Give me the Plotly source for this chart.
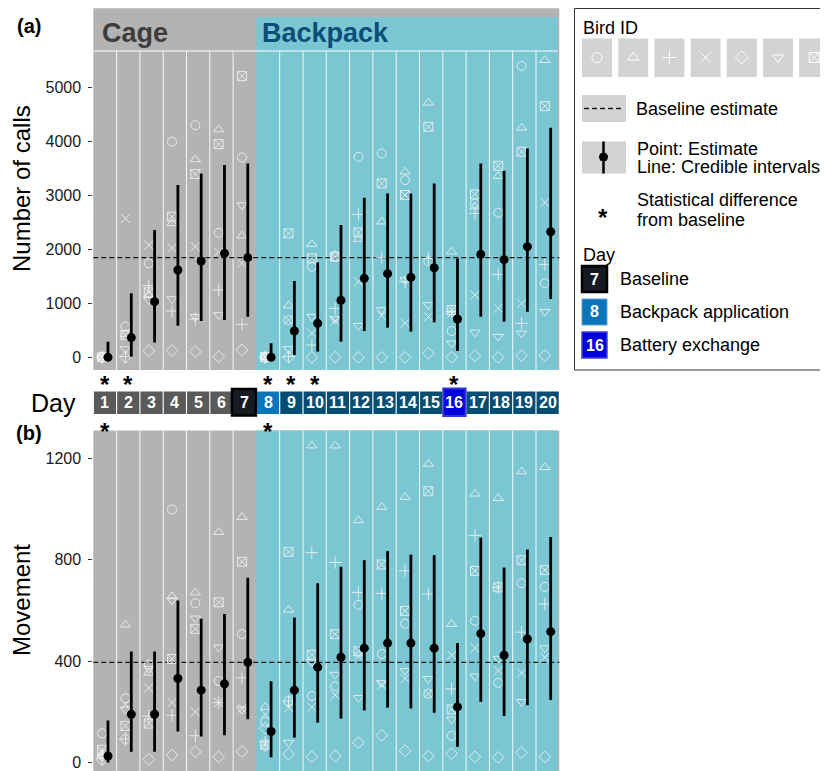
import plotly.graph_objects as go

# The page body has an 8px margin, so the figure is 820x763 and reference pixel
# coordinates are shifted by that margin.
OFF = 8
W, H = 828 - OFF, 771 - OFF
FONT = "Liberation Sans, Arial, Helvetica, sans-serif"

# ---------------- data ----------------
days = list(range(1, 21))
bird_symbols = ["circle-open", "triangle-up-open", "cross-thin-open", "x-thin-open",
                "diamond-open", "triangle-down-open", "square-x-open"]

# (a) Number of calls, per bird
calls_circle  = [0, 570, 1743, 4000, 4307, 2311, 3708, 0, 690, 1681, 1866, 3720, 3782, 3288, 1780, 488, 2855, 2682, 5408, 1372]
calls_tri_up  = [0, 430, 1156, 2484, 3671, 4227, 2256, 0, 958, 2101, 1900, 2194, 2515, 3442, 4722, 1959, 2793, 3362, 4258, 5513]
calls_plus    = [0, 12, 1329, 859, 711, 1248, 612, 0, 12, 229, 907, 2651, 1854, 1400, 1835, 847, 2670, 1539, 630, 1724]
calls_x       = [0, 2577, 2083, 2033, 2052, 1947, 1743, 0, 690, 445, 674, 1403, 772, 630, 754, 816, 1156, 908, 1001, 2874]
calls_diamond = [0, 0, 124, 124, 105, 12, 136, 0, 0, 0, 0, 0, 0, 0, 74, 0, 31, 0, 31, 31]
calls_tri_dn  = [0, 155, 1063, 1081, 754, 785, 2824, 0, 155, 754, 711, 587, 878, 1434, 970, 260, 463, 383, 445, 847]
calls_sqx     = [0, 414, 1205, 2608, 3399, 3955, 5216, 0, 2299, 1835, 1866, 2317, 3226, 3010, 4277, 878, 3022, 3553, 3813, 4660]
calls_est     = [0, 365, 1032, 1619, 1786, 1928, 1848, 0, 488, 630, 1057, 1465, 1551, 1483, 1662, 711, 1910, 1811, 2052, 2330]
calls_lo      = [0, 12, 272, 587, 674, 692, 754, 0, 43, 105, 290, 488, 550, 476, 649, 117, 754, 661, 847, 1081]
calls_hi      = [290, 1187, 2361, 3195, 3411, 3566, 3597, 260, 1415, 1761, 2453, 2960, 3041, 3041, 3226, 1835, 3597, 3461, 3875, 4258]
calls_sig_days = [1, 2, 8, 9, 10, 16]

# (b) Movement, per bird
move_circle  = [115, 253, 386, 998, 628, 321, 506, 160, 242, 262, 301, 622, 428, 547, 271, 105, 559, 314, 707, 693]
move_tri_up  = [30, 543, 353, 655, 670, 909, 968, 218, 602, 1250, 1250, 955, 1008, 1047, 1178, 546, 1060, 1043, 1148, 1165]
move_plus    = [15, 92, 183, 186, 105, 236, 334, 80, 242, 828, 789, 671, 667, 756, 665, 290, 896, 691, 514, 625]
move_x       = [40, 229, 294, 236, 200, 236, 213, 190, 216, 218, 266, 419, 305, 331, 271, 423, 451, 362, 353, 415]
move_diamond = [10, 92, 12, 29, 42, 22, 43, 135, 33, 22, 26, 78, 107, 46, 26, 35, 22, 20, 39, 22]
move_tri_dn  = [20, 209, 370, 640, 569, 454, 209, 60, 78, 396, 347, 255, 314, 362, 330, 170, 340, 410, 239, 451]
move_sqx     = [50, 144, 153, 408, 527, 632, 792, 70, 831, 425, 506, 438, 781, 598, 1070, 209, 756, 691, 798, 759]
move_est     = [25, 190, 190, 331, 285, 310, 395, 122, 285, 376, 415, 451, 471, 471, 451, 219, 508, 423, 487, 516]
move_lo      = [0, 42, 42, 122, 102, 107, 170, 20, 98, 157, 173, 205, 216, 213, 196, 61, 239, 183, 226, 246]
move_hi      = [165, 438, 438, 639, 567, 586, 729, 320, 572, 707, 772, 798, 834, 820, 818, 471, 887, 769, 840, 890]
move_sig_days = [1, 8]

baseline_day = 7
backpack_day = 8
battery_day = 16
calls_ticks = [0, 1000, 2000, 3000, 4000, 5000]
move_ticks = [0, 400, 800, 1200]

calls_birds = [calls_circle, calls_tri_up, calls_plus, calls_x, calls_diamond, calls_tri_dn, calls_sqx]
move_birds = [move_circle, move_tri_up, move_plus, move_x, move_diamond, move_tri_dn, move_sqx]

# ---------------- styles ----------------
GRAY = "#b3b3b3"
CYAN = "#7ac6d3"
MARK = "rgba(242,242,242,0.85)"
DARKBLUE = "#064d74"


def fx(x):
    return (x - OFF) / W


def fy(y):
    return 1 - (y - OFF) / H


PL, PR = 93.3, 559.3
A_TOP, A_STRIP, A_BOT = 8.3, 51, 370
B_TOP, B_BOT = 430.5, 771
DX_MARK, DX_EST = -0.12, 0.13

fig = go.Figure()

panels = [("x", "y", calls_birds, calls_est, calls_lo, calls_hi),
          ("x2", "y2", move_birds, move_est, move_lo, move_hi)]
for xa, ya, birds, est, lo, hi in panels:
    for sym, vals in zip(bird_symbols, birds):
        fig.add_trace(go.Scatter(
            x=[d + DX_MARK for d in days], y=vals, mode="markers", xaxis=xa, yaxis=ya,
            marker=dict(symbol=sym, size=9, color=MARK, line=dict(width=1, color=MARK)),
            showlegend=False, hoverinfo="skip"))
    fig.add_trace(go.Scatter(
        x=[d + DX_EST for d in days], y=est, mode="markers", xaxis=xa, yaxis=ya,
        marker=dict(size=9, color="black"),
        error_y=dict(type="data", symmetric=False,
                     array=[h - e for h, e in zip(hi, est)],
                     arrayminus=[e - l for e, l in zip(est, lo)],
                     width=0, thickness=2.8, color="black"),
        showlegend=False))

shapes = []
ann = []

# panel backgrounds
shapes.append(dict(type="rect", xref="paper", yref="paper", x0=fx(PL), x1=fx(PR),
                   y0=fy(A_BOT), y1=fy(A_TOP), fillcolor=GRAY, line=dict(width=0), layer="below"))
shapes.append(dict(type="rect", xref="paper", yref="paper", x0=fx(256.4), x1=fx(557.8),
                   y0=fy(A_BOT), y1=fy(17), fillcolor=CYAN, line=dict(width=0), layer="below"))
shapes.append(dict(type="rect", xref="paper", yref="paper", x0=fx(PL), x1=fx(PR),
                   y0=fy(B_BOT), y1=fy(B_TOP), fillcolor=GRAY, line=dict(width=0), layer="below"))
shapes.append(dict(type="rect", xref="paper", yref="paper", x0=fx(256.4), x1=fx(557.8),
                   y0=fy(B_BOT), y1=fy(B_TOP), fillcolor=CYAN, line=dict(width=0), layer="below"))
shapes.append(dict(type="line", xref="paper", yref="paper", x0=fx(PL), x1=fx(557.8),
                   y0=fy(A_STRIP), y1=fy(A_STRIP), line=dict(color="white", width=1), layer="below"))

for d in days[:-1]:
    if d == baseline_day:
        continue
    shapes.append(dict(type="line", xref="x", yref="paper", x0=d + 0.5, x1=d + 0.5,
                       y0=fy(A_BOT), y1=fy(A_STRIP), line=dict(color="rgba(255,255,255,0.9)", width=1), layer="below"))
    shapes.append(dict(type="line", xref="x2", yref="paper", x0=d + 0.5, x1=d + 0.5,
                       y0=fy(B_BOT), y1=fy(B_TOP), line=dict(color="rgba(255,255,255,0.9)", width=1), layer="below"))

# baselines
shapes.append(dict(type="line", xref="paper", yref="y", x0=fx(PL), x1=fx(PR),
                   y0=calls_est[baseline_day - 1], y1=calls_est[baseline_day - 1],
                   line=dict(color="#1a1a1a", width=1.3, dash="5px,3px"), layer="below"))
shapes.append(dict(type="line", xref="paper", yref="y2", x0=fx(PL), x1=fx(PR),
                   y0=move_est[baseline_day - 1], y1=move_est[baseline_day - 1],
                   line=dict(color="#1a1a1a", width=1.3, dash="5px,3px"), layer="below"))


def text(t, x, y, size, color="black", xanchor="left", angle=0, xref="paper"):
    ann.append(dict(text=t, x=x if xref != "paper" else fx(x), y=fy(y), xref=xref, yref="paper",
                    xanchor=xanchor, yanchor="middle", showarrow=False, textangle=angle,
                    font=dict(size=size, color=color, family=FONT)))


# strip labels and titles
text("<b>Cage</b>", 100, 33, 27, "#3d3d3d")
text("<b>Backpack</b>", 260, 33, 27, "#0b4e78")
text("<b>(a)</b>", 29, 26, 20, xanchor="center")
text("<b>(b)</b>", 29, 433, 20, xanchor="center")
text("Number of calls", 21, 189, 24, xanchor="center", angle=-90)
text("Movement", 21, 600, 24, xanchor="center", angle=-90)

# day strip
STRIP_T, STRIP_B = 391.5, 414
text("Day", 78, 402.5, 25, xanchor="right")


def day_color(d):
    if d == baseline_day:
        return "#161b23"
    if d == backpack_day:
        return "#0a76b9"
    if d == battery_day:
        return "#0000dd"
    if d < baseline_day:
        return "#5a5a5a"
    return DARKBLUE


for d in days:
    if d == baseline_day:
        shapes.append(dict(type="rect", xref="x", yref="paper", x0=d - 0.5 - 0.05, x1=d + 0.5 - 0.02,
                           y0=fy(STRIP_B + 1.5), y1=fy(STRIP_T - 2.5), fillcolor=day_color(d),
                           line=dict(color="black", width=2.5)))
    elif d == battery_day:
        shapes.append(dict(type="rect", xref="x", yref="paper", x0=d - 0.5 + 0.02, x1=d + 0.5 - 0.02,
                           y0=fy(STRIP_B + 2), y1=fy(STRIP_T - 3), fillcolor=day_color(d),
                           line=dict(color="#3535d6", width=2)))
    else:
        shapes.append(dict(type="rect", xref="x", yref="paper", x0=d - 0.5 + 0.025, x1=d + 0.5 - 0.025,
                           y0=fy(STRIP_B), y1=fy(STRIP_T), fillcolor=day_color(d),
                           line=dict(width=0)))
    text(f"<b>{d}</b>", d, (STRIP_T + STRIP_B) / 2, 16, "white", xanchor="center", xref="x")

for d in calls_sig_days:
    text("<b>*</b>", d, 384, 24, xanchor="center", xref="x")
for d in move_sig_days:
    text("<b>*</b>", d, 431, 24, xanchor="center", xref="x")

# ---------------- legend ----------------
LG = "#d3d3d3"
LFS = 18
shapes.append(dict(type="rect", xref="paper", yref="paper", x0=fx(574.5), x1=fx(827.5),
                   y0=fy(370), y1=fy(8.5), fillcolor="white", line=dict(color="#333333", width=1),
                   layer="below"))
text("Bird ID", 581, 28, LFS)
key_x = []
for i in range(len(bird_symbols)):
    x0 = 582 + 36.2 * i
    shapes.append(dict(type="rect", xref="paper", yref="paper", x0=fx(x0), x1=fx(min(x0 + 30, 826.5)),
                       y0=fy(77), y1=fy(38.5), fillcolor=LG, line=dict(width=0), layer="below"))
    key_x.append(x0 + 15)
for sym, kx in zip(bird_symbols, key_x):
    fig.add_trace(go.Scatter(x=[kx], y=[57.5], xaxis="x3", yaxis="y3", mode="markers",
                             marker=dict(symbol=sym, size=10, color="white", line=dict(width=1, color="white")),
                             showlegend=False, hoverinfo="skip"))

shapes.append(dict(type="rect", xref="paper", yref="paper", x0=fx(582), x1=fx(626),
                   y0=fy(122), y1=fy(95), fillcolor=LG, line=dict(width=0), layer="below"))
shapes.append(dict(type="line", xref="paper", yref="paper", x0=fx(584), x1=fx(624),
                   y0=fy(108.5), y1=fy(108.5), line=dict(color="#1a1a1a", width=1.3, dash="5px,3px")))
text("Baseline estimate", 634, 109, LFS)

shapes.append(dict(type="rect", xref="paper", yref="paper", x0=fx(582), x1=fx(626),
                   y0=fy(173.5), y1=fy(141.5), fillcolor=LG, line=dict(width=0), layer="below"))
shapes.append(dict(type="line", xref="paper", yref="paper", x0=fx(603.5), x1=fx(603.5),
                   y0=fy(173.5), y1=fy(141.5), line=dict(color="black", width=2.5)))
fig.add_trace(go.Scatter(x=[603.5], y=[157], xaxis="x3", yaxis="y3", mode="markers",
                         marker=dict(size=9, color="black"), showlegend=False, hoverinfo="skip"))
text("Point: Estimate", 635, 148.5, LFS)
text("Line: Credible intervals", 635, 166.5, LFS)

text("<b>*</b>", 602.5, 217, 24, xanchor="center")
text("Statistical difference", 635, 200, LFS)
text("from baseline", 635, 220, LFS)

text("Day", 581, 255, LFS)
legend_days = [(baseline_day, "Baseline", 266, 292, dict(color="black", width=2.5)),
               (backpack_day, "Backpack application", 299, 325, dict(color="#5b9fd1", width=1)),
               (battery_day, "Battery exchange", 332, 358, dict(color="#4040e0", width=1.5))]
for d, label, t, b, ln in legend_days:
    shapes.append(dict(type="rect", xref="paper", yref="paper", x0=fx(582), x1=fx(607),
                       y0=fy(b), y1=fy(t), fillcolor=day_color(d), line=ln))
    text(f"<b>{d}</b>", 594.5, (t + b) / 2, 16, "white", xanchor="center")
    text(label, 618, (t + b) / 2, LFS)

# ---------------- axes ----------------
common_x = dict(range=[0.5, 20.5], showticklabels=False, showgrid=False, zeroline=False,
                ticks="", showline=False, fixedrange=True)
common_y = dict(showgrid=False, zeroline=False, showline=False, ticks="outside", ticklen=4,
                tickcolor="#333333", tickwidth=1, tickfont=dict(size=16, color="#1a1a1a", family=FONT),
                ticklabelstandoff=4, fixedrange=True)

fig.update_layout(
    width=W, height=H,
    margin=dict(l=0, r=0, t=0, b=0),
    paper_bgcolor="white", plot_bgcolor="rgba(0,0,0,0)",
    font=dict(family=FONT),
    showlegend=False,
    xaxis=dict(domain=[fx(PL), fx(PR)], anchor="y", **common_x),
    yaxis=dict(domain=[fy(A_BOT), fy(A_STRIP)], anchor="x", range=[-236, 5683],
               tickvals=calls_ticks, **common_y),
    xaxis2=dict(domain=[fx(PL), fx(PR)], anchor="y2", **common_x),
    yaxis2=dict(domain=[0, fy(B_TOP)], anchor="x2", range=[-34, 1310],
                tickvals=move_ticks, **common_y),
    xaxis3=dict(domain=[0, 1], anchor="y3", range=[OFF, OFF + W], visible=False, fixedrange=True),
    yaxis3=dict(domain=[0, 1], anchor="x3", range=[OFF + H, OFF], visible=False, fixedrange=True),
    shapes=shapes,
    annotations=ann,
)

fig.write_html("out.html")
